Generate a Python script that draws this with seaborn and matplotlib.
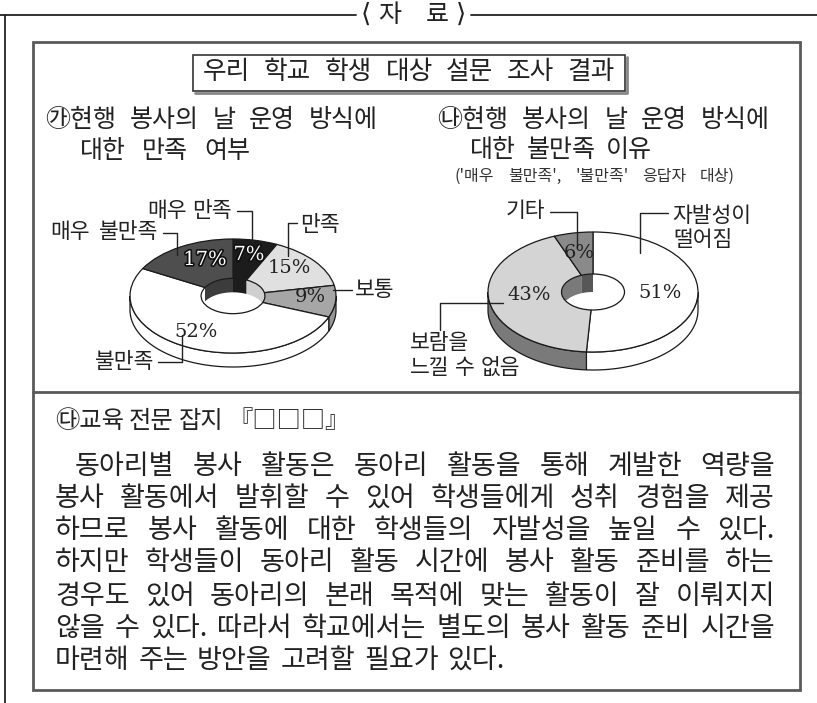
import numpy as np
import matplotlib
matplotlib.use("Agg")
import matplotlib.pyplot as plt
import seaborn as sns
from matplotlib.patches import Polygon, Rectangle
import matplotlib.patheffects as pe

sns.set_theme(style="white")
plt.rcParams['font.family'] = ['Noto Sans CJK KR', 'DejaVu Sans']

# ---------------- data ----------------
left_labels = ["매우 만족", "만족", "보통", "불만족", "매우 불만족"]
left_values = [7, 15, 9, 52, 17]
left_colors = ["#1c1c1c", "#e0e0e0", "#a6a6a6", "#ffffff", "#4e4e4e"]
left_side = ["#1c1c1c", "#cfcfcf", "#979797", "#ffffff", "#3c3c3c"]

right_labels = ["자발성이\n떨어짐", "보람을\n느낄 수 없음", "기타"]
right_values = [51, 43, 6]
right_colors = ["#ffffff", "#d4d4d4", "#8a8a8a"]
right_side = ["#ffffff", "#7a7a7a", "#575757"]

header = ["〈", "자", "료", "〉"]
main_title = "우리 학교 학생 대상 설문 조사 결과"
left_title = ["㉮현행 봉사의 날 운영 방식에", "대한 만족 여부"]
right_title = ["㉯현행 봉사의 날 운영 방식에", "대한 불만족 이유"]
right_note = "('매우 불만족', '불만족' 응답자 대상)"
source_title = "㉰교육 전문 잡지 『□□□』"
body_lines = [
    "동아리별 봉사 활동은 동아리 활동을 통해 계발한 역량을",
    "봉사 활동에서 발휘할 수 있어 학생들에게 성취 경험을 제공",
    "하므로 봉사 활동에 대한 학생들의 자발성을 높일 수 있다.",
    "하지만 학생들이 동아리 활동 시간에 봉사 활동 준비를 하는",
    "경우도 있어 동아리의 본래 목적에 맞는 활동이 잘 이뤄지지",
    "않을 수 있다. 따라서 학교에서는 별도의 봉사 활동 준비 시간을",
    "마련해 주는 방안을 고려할 필요가 있다.",
]

# ---------------- layout ----------------
W, H = 817, 703
EDGE = "#1a1a1a"
LW = 0.9
fig = plt.figure(figsize=(W / 100, H / 100), dpi=100)
fig.patch.set_facecolor("white")
axm = fig.add_axes([0, 0, 1, 1], zorder=2)
axm.set_xlim(0, W)
axm.set_ylim(H, 0)
axm.axis("off")
axm.patch.set_alpha(0)
renderer = fig.canvas.get_renderer()


def justify(text, x0, x1, y, min_gap=5, **kw):
    words = text.split(" ")
    objs = [axm.text(0, y, w, va="center", ha="left", **kw) for w in words]
    widths = [o.get_window_extent(renderer).width for o in objs]
    gap = (x1 - x0 - sum(widths)) / (len(words) - 1) if len(words) > 1 else 0
    if len(words) > 1:
        gap = max(gap, min_gap)
    x = x0
    for o, w in zip(objs, widths):
        o.set_x(x)
        x += w + gap


def donut(cx, cy, rx, ry, t_px, hole, values, colors, side_colors):
    k = 2.0
    ax = fig.add_axes([(cx - k * rx) / W, (H - (cy + k * ry)) / H,
                       2 * k * rx / W, 2 * k * ry / H], zorder=1)
    t = t_px / ry
    ax.pie(values, colors=colors, startangle=90, counterclock=False, radius=1,
           wedgeprops=dict(width=1 - hole, edgecolor=EDGE, linewidth=LW, zorder=3))
    fr = np.asarray(values, float) / np.sum(values)
    cum = np.concatenate([[0], np.cumsum(fr)])
    starts = 90 - 360 * cum[:-1]
    ends = 90 - 360 * cum[1:]
    for a0, a1, sc in zip(starts, ends, side_colors):
        lo, hi = max(a1, -180), min(a0, 0)
        if hi > lo:
            th = np.radians(np.linspace(lo, hi, 80))
            xs, ys = np.cos(th), np.sin(th)
            poly = np.vstack([np.column_stack([xs, ys]),
                              np.column_stack([xs[::-1], ys[::-1] - t])])
            ax.add_patch(Polygon(poly, closed=True, fc=sc, ec=EDGE, lw=LW, zorder=1))
        for lo0, hi0 in [(0, 90), (-270, -180)]:
            lo, hi = max(a1, lo0), min(a0, hi0)
            if hi > lo:
                th = np.radians(np.linspace(lo, hi, 60))
                xs, ys = hole * np.cos(th), hole * np.sin(th)
                poly = np.vstack([np.column_stack([xs, ys]),
                                  np.column_stack([xs[::-1], ys[::-1] - t])])
                ax.add_patch(Polygon(poly, closed=True, fc=sc, ec="none", zorder=1))
    ax.set_aspect("auto")
    ax.set_xlim(-k, k)
    ax.set_ylim(-k, k)
    ax.axis("off")
    ax.patch.set_alpha(0)
    return ax


# ---------------- frames ----------------
frame_kw = dict(color="#222222", lw=1.3)
axm.plot([0, 356], [15, 15], **frame_kw)
axm.plot([471, W], [15, 15], **frame_kw)
axm.plot([5, 5], [15, H], **frame_kw)
for ch, x in zip(header, [366, 390, 437, 461]):
    if ch in "〈〉":
        axm.text(x, 15, "⟨" if ch == "〈" else "⟩", ha="center", va="center",
                 fontsize=19, color="#222", family=["DejaVu Sans"])
    else:
        axm.text(x, 15, ch, ha="center", va="center", fontsize=18, color="#222")

axm.add_patch(Rectangle((33, 42), 767, 648, fill=False, ec="#5a5a5a", lw=2.0))
axm.plot([33, 800], [392, 392], color="#5a5a5a", lw=2.0)
axm.plot([195, 627, 627], [93, 93, 57], color="#888888", lw=2.0)
axm.add_patch(Rectangle((193, 55), 432, 36, fill=False, ec="#333333", lw=1.2))
justify(main_title, 203, 615, 72, fontsize=18.5, color="#222")

sub_kw = dict(fontsize=18, color="#222")
justify(left_title[0], 45, 378, 120, **sub_kw)
justify(left_title[1], 80, 250, 151, **sub_kw)
justify(right_title[0], 437, 770, 120, **sub_kw)
justify(right_title[1], 470, 652, 150, **sub_kw)
justify(right_note, 455, 735, 176, fontsize=11.5, color="#333")

# ---------------- donuts ----------------
donut(233, 296, 103, 57, 14, 0.31, left_values, left_colors, left_side)
donut(593, 292, 105, 60, 18, 0.30, right_values, right_colors, right_side)

pct_kw = dict(family="DejaVu Serif", fontsize=14, ha="center", va="center")
outline = [pe.Stroke(linewidth=2.4, foreground="#111111"), pe.Normal()]
left_pct_pos = [(249, 255), (289, 268), (310, 297), (196, 332), (205, 260)]
for v, (x, y), c in zip(left_values, left_pct_pos, left_colors):
    dark = c in ("#1c1c1c", "#4e4e4e")
    axm.text(x, y, f"{v}%", color="white" if dark else "#222",
             path_effects=outline if dark else None, **pct_kw)
right_pct_pos = [(660, 293), (529, 295), (579, 253)]
for v, (x, y) in zip(right_values, right_pct_pos):
    axm.text(x, y, f"{v}%", color="#222", **pct_kw)

lab_kw = dict(fontsize=15.5, color="#222")
ln_kw = dict(color="#222", lw=1.0)
# left labels + leaders
justify(left_labels[0], 147, 232, 211, **lab_kw)
axm.plot([237, 252, 252], [211, 211, 246], **ln_kw)
justify(left_labels[1], 300, 353, 225, **lab_kw)
axm.plot([297, 288, 288], [223, 223, 256], **ln_kw)
justify(left_labels[2], 355, 397, 290, **lab_kw)
axm.plot([352, 333], [290, 290], **ln_kw)
justify(left_labels[3], 95, 155, 362, **lab_kw)
axm.plot([158, 182, 182], [362, 362, 335], **ln_kw)
justify(left_labels[4], 50, 158, 232, **lab_kw)
axm.plot([163, 177, 177], [233, 233, 255], **ln_kw)
# right labels + leaders
r0 = right_labels[0].split("\n")
justify(r0[0], 672, 750, 216, **lab_kw)
justify(r0[1], 673, 727, 240, **lab_kw)
axm.plot([668, 640, 640], [213, 213, 253], **ln_kw)
r1 = right_labels[1].split("\n")
justify(r1[0], 410, 465, 343, **lab_kw)
justify(r1[1], 410, 520, 368, **lab_kw)
axm.plot([440, 440, 503], [330, 303, 303], **ln_kw)
justify(right_labels[2], 506, 545, 211, **lab_kw)
axm.plot([550, 577, 577], [212, 212, 247], **ln_kw)

# ---------------- source text ----------------
justify(source_title, 55, 338, 421, fontsize=17.5, color="#222")
body_kw = dict(fontsize=19.5, color="#222")
ys = [466, 498, 530, 563, 596, 628, 660]
for i, (line, y) in enumerate(zip(body_lines, ys)):
    x0 = 75 if i == 0 else 55
    x1 = 505 if i == len(body_lines) - 1 else 775
    justify(line, x0, x1, y, **body_kw)

fig.savefig("out.png", dpi=100, facecolor="white")
